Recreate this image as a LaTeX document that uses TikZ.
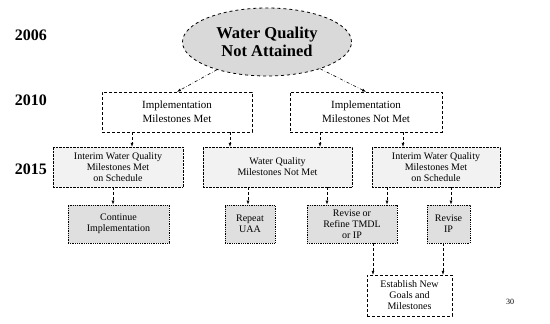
\documentclass[tikz,border=0pt]{standalone}
\usepackage{fontspec}
\setmainfont{Liberation Serif}
\usepackage{tikz}
\usetikzlibrary{positioning,arrows.meta,shapes.geometric}

\begin{document}
\begin{tikzpicture}[
  x=1pt,y=-1pt,
  font=\fontsize{10}{11}\selectfont,
  goalnode/.style={ellipse,draw,thick,dashed,fill=gray!30,minimum width=169pt,minimum height=68pt,inner sep=0pt,align=center,font=\fontsize{16.5}{18}\selectfont\bfseries},
  milebox/.style={rectangle,draw,densely dashed,thin,fill=white,align=center,inner sep=1pt,font=\fontsize{11}{14}\selectfont},
  checkbox/.style={rectangle,draw,densely dotted,fill=gray!10,align=center,inner sep=1pt},
  actbox/.style={rectangle,draw,densely dotted,thick,fill=gray!25,align=center,inner sep=1pt},
  endbox/.style={rectangle,draw,densely dashed,fill=white,align=center,inner sep=1pt},
  yearlabel/.style={font=\fontsize{16}{18}\selectfont\bfseries},
  arr/.style={-{Latex[length=4pt,width=3pt]},densely dashed,semithick},
  goalarr/.style={-{Latex[length=4pt,width=3pt]},dash dot,semithick},
]
\useasboundingbox (0,0) rectangle (550,324);

% Year column
\node[yearlabel] (y06) at (31,35)  {2006};
\node[yearlabel] (y10) at (31,100) {2010};
\node[yearlabel] (y15) at (31,169) {2015};

% Goal
\node[goalnode] (goal) at (267,42) {Water Quality\\Not Attained};

% 2010 row
\node[milebox,minimum width=150pt,minimum height=40pt] (b10l) at (177,112) {Implementation\\Milestones Met};
\node[milebox,minimum width=152pt,minimum height=40pt] (b10r) at (366,112) {Implementation\\Milestones Not Met};
\draw[goalarr] (goal) -- (b10l.north);
\draw[goalarr] (goal) -- (b10r.north);

% 2015 row
\node[checkbox,minimum width=130pt,minimum height=40pt] (b15a) at (118,167)   {Interim Water Quality\\Milestones Met\\on Schedule};
\node[checkbox,minimum width=149pt,minimum height=40pt] (b15b) at (277.5,167) {Water Quality\\Milestones Not Met};
\node[checkbox,minimum width=128pt,minimum height=40pt] (b15c) at (436,167)   {Interim Water Quality\\Milestones Met\\on Schedule};
\draw[arr] (b10l.south -| 132,0) -- (b15a.north -| 132,0);
\draw[arr] (b10l.south -| 230,0) -- (b15b.north -| 230,0);
\draw[arr] (b10r.south -| 320,0) -- (b15b.north -| 320,0);
\draw[arr] (b10r.south -| 403,0) -- (b15c.north -| 403,0);

% Actions
\node[actbox,minimum width=101pt,minimum height=38pt] (cont)   at (118.5,224) {Continue\\Implementation};
\node[actbox,minimum width=50pt,minimum height=38pt]  (uaa)    at (250,224)   {Repeat\\UAA};
\node[actbox,minimum width=90pt,minimum height=38pt]  (refine) at (352,224)   {Revise or\\Refine TMDL\\or IP};
\node[actbox,minimum width=43pt,minimum height=38pt]  (revip)  at (448.5,224) {Revise\\IP};
\draw[arr] (b15a.south -| 113,0) -- (cont.north -| 113,0);
\draw[arr] (b15b.south -| 248,0) -- (uaa.north -| 248,0);
\draw[arr] (b15b.south -| 327,0) -- (refine.north -| 327,0);
\draw[arr] (b15c.south -| 387,0) -- (refine.north -| 387,0);
\draw[arr] (b15c.south -| 451,0) -- (revip.north -| 451,0);

% New goals
\node[endbox,minimum width=85pt,minimum height=41pt] (newgoal) at (409.5,295.5) {Establish New\\Goals and\\Milestones};
\draw[arr] (refine.south -| 373,0) -- (newgoal.north -| 373,0);
\draw[arr] (revip.south -| 443,0)  -- (newgoal.north -| 443,0);

\node[font=\fontsize{8}{9}\selectfont] (pagenum) at (510,302) {30};
\end{tikzpicture}
\end{document}
